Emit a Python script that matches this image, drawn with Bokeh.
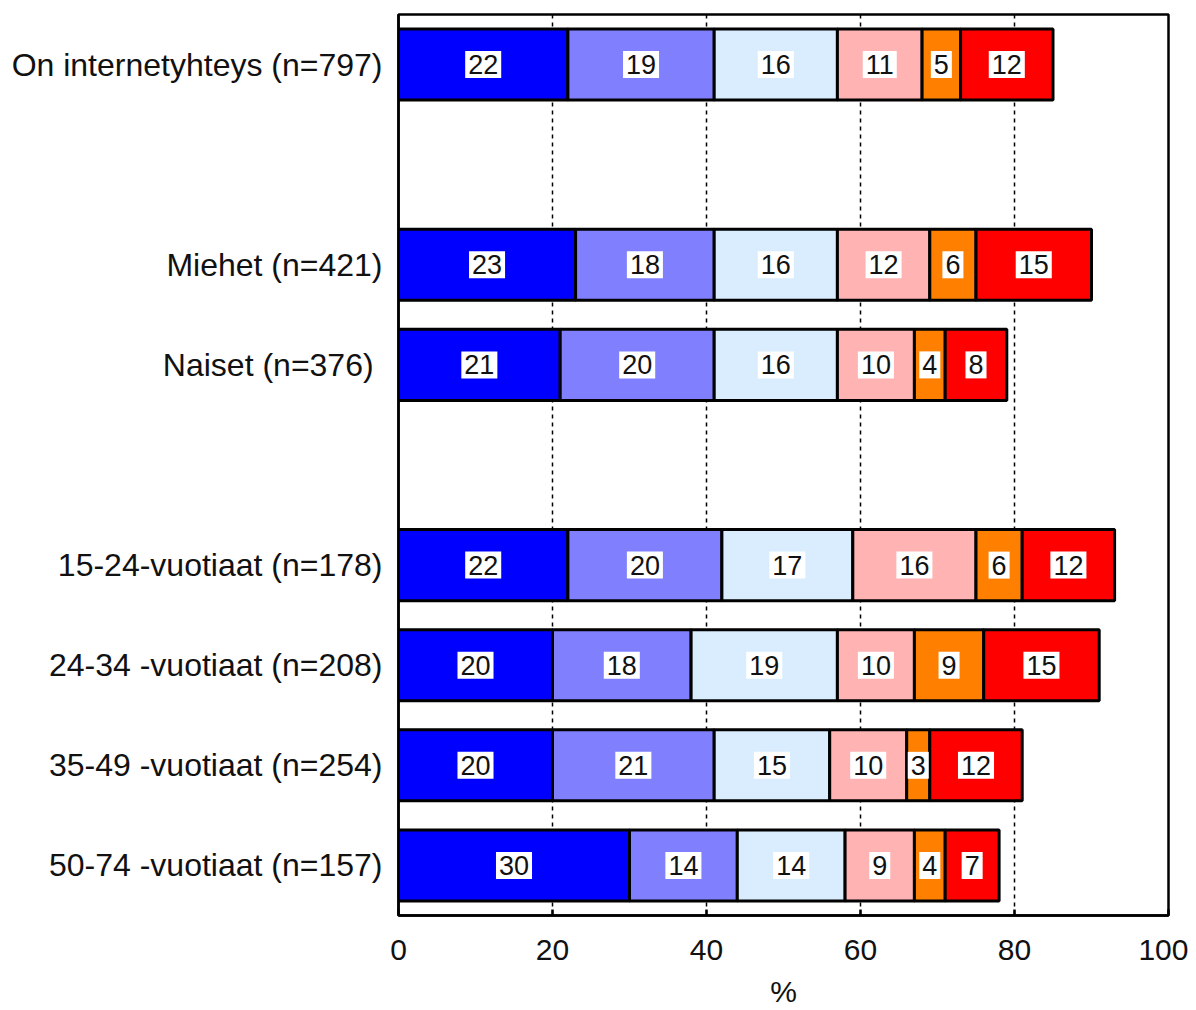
import numpy as np
from bokeh.plotting import figure
from bokeh.models import ColumnDataSource, FixedTicker, Range1d
from bokeh.core.properties import value
from bokeh.embed import file_html
from bokeh.resources import INLINE

categories = ["On internetyhteys (n=797)", "", "Miehet (n=421)", "Naiset (n=376) ", " ",
              "15-24-vuotiaat (n=178)", "24-34 -vuotiaat (n=208)", "35-49 -vuotiaat (n=254)",
              "50-74 -vuotiaat (n=157)"]
seg1 = [22, None, 23, 21, None, 22, 20, 20, 30]
seg2 = [19, None, 18, 20, None, 20, 18, 21, 14]
seg3 = [16, None, 16, 16, None, 17, 19, 15, 14]
seg4 = [11, None, 12, 10, None, 16, 10, 10, 9]
seg5 = [5, None, 6, 4, None, 6, 9, 3, 4]
seg6 = [12, None, 15, 8, None, 12, 15, 12, 7]
colors = ["#0000FF", "#8080FF", "#D9EDFF", "#FFB3B3", "#FF8000", "#FF0000"]
x_ticks = [0, 20, 40, 60, 80, 100]

FONT = "Liberation Sans"

p = figure(width=1188, height=1010, output_backend="svg", toolbar_location=None,
           x_range=Range1d(0, 100), y_range=Range1d(len(categories) - 0.5, -0.5),
           min_border_left=398, min_border_right=20, min_border_top=14, min_border_bottom=94)

series = [seg1, seg2, seg3, seg4, seg5, seg6]
ys, lefts, rights, fills, labs, mids = [], [], [], [], [], []
for i in range(len(categories)):
    if seg1[i] is None:
        continue
    acc = 0
    for s, c in zip(series, colors):
        v = s[i]
        ys.append(i)
        lefts.append(acc)
        rights.append(acc + v)
        fills.append(c)
        labs.append(str(v))
        mids.append(acc + v / 2)
        acc += v

src = ColumnDataSource(dict(y=ys, left=lefts, right=rights, fill=fills, lab=labs, mid=mids))
p.hbar(y="y", left="left", right="right", height=0.71, fill_color="fill",
       line_color="black", line_width=3, source=src)
p.text(x="mid", y="y", text="lab", source=src, text_align="center", text_baseline="middle",
       text_font=value(FONT), text_font_size="27px", text_color="#111111",
       background_fill_color="white", padding=dict(left=3, right=3, top=4, bottom=4))

p.xgrid.ticker = FixedTicker(ticks=[20, 40, 60, 80])
p.xgrid.grid_line_color = "black"
p.xgrid.grid_line_dash = "4 4"
p.xgrid.grid_line_width = 1.5
p.ygrid.grid_line_color = None

p.outline_line_color = "black"
p.outline_line_width = 2.5
p.outline_line_alpha = 1

xa = p.xaxis[0]
xa.ticker = FixedTicker(ticks=x_ticks)
xa.major_tick_in = 6
xa.major_tick_out = 0
xa.minor_tick_line_color = None
xa.axis_line_width = 2.5
xa.major_tick_line_width = 2.5
xa.major_label_text_font = FONT
xa.major_label_text_font_size = "30px"
xa.major_label_text_color = "#111111"
xa.major_label_standoff = 24
xa.axis_label = "%"
xa.axis_label_text_font = FONT
xa.axis_label_text_font_size = "30px"
xa.axis_label_text_font_style = "normal"
xa.axis_label_text_color = "#111111"
xa.axis_label_standoff = 12

ya = p.yaxis[0]
ya.ticker = FixedTicker(ticks=list(range(len(categories))))
ya.major_label_overrides = {i: c for i, c in enumerate(categories)}
ya.major_tick_in = 0
ya.major_tick_out = 0
ya.minor_tick_line_color = None
ya.axis_line_width = 2.5
ya.major_label_text_font = FONT
ya.major_label_text_font_size = "32px"
ya.major_label_text_color = "#111111"
ya.major_label_standoff = 16

open("out.html", "w").write(file_html(p, INLINE))
